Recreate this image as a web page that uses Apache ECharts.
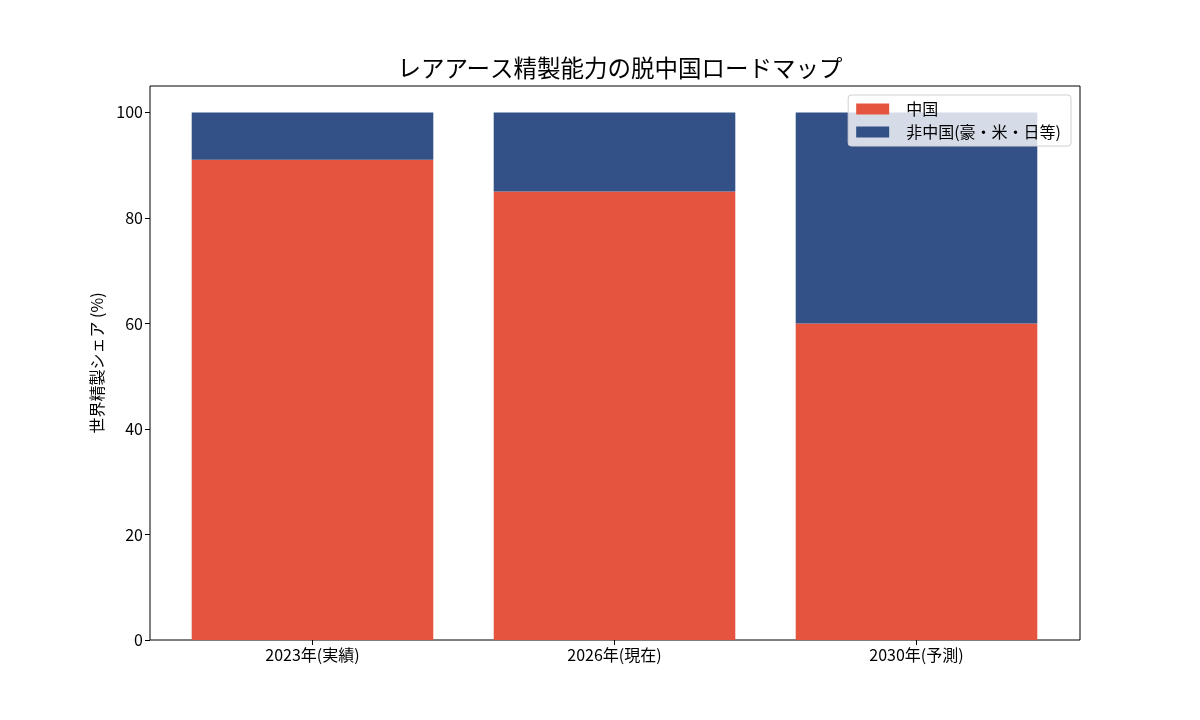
<!DOCTYPE html>
<html>
<head>
<meta charset="utf-8">
<script src="https://cdn.jsdelivr.net/npm/echarts@6/dist/echarts.min.js"></script>
<style>
  html, body { margin: 0; padding: 0; background: #fff; }
  #chart { width: 1200px; height: 720px; }
</style>
</head>
<body>
<div id="chart"></div>
<script>
// データ
var categories = ['2023年(実績)', '2026年(現在)', '2030年(予測)'];
var chinaShare = [91, 85, 60];
var otherShare = [9, 15, 40];
var seriesNames = ['中国', '非中国(豪・米・日等)'];
var yTicks = [0, 20, 40, 60, 80, 100];

var FONT = '"Noto Sans CJK JP", "Noto Sans", sans-serif';

var myChart = echarts.init(document.getElementById('chart'));

var option = {
    backgroundColor: '#fff',
    animation: false,
    title: {
        text: 'レアアース精製能力の脱中国ロードマップ',
        left: 615,
        textAlign: 'center',
        top: 51,
        textStyle: { fontFamily: FONT, fontSize: 23.5, fontWeight: 'normal', color: '#000' }
    },
    legend: {
        orient: 'vertical',
        right: 129,
        top: 95,
        icon: 'rect',
        itemWidth: 33,
        itemHeight: 11,
        itemGap: 7,
        padding: [6, 10, 6, 8],
        backgroundColor: 'rgba(255,255,255,0.8)',
        borderColor: '#d0d0d0',
        borderWidth: 1,
        borderRadius: 3,
        textStyle: { fontFamily: FONT, fontSize: 16, color: '#000', padding: [0, 0, 0, 12] },
        data: seriesNames
    },
    grid: [
        // 枠線用
        { left: 150, right: 120, top: 86, bottom: 80, show: true, borderColor: '#000', borderWidth: 1, backgroundColor: 'transparent' },
        // 棒グラフ用
        { left: 161.5, right: 132.5, top: 86, bottom: 80 }
    ],
    xAxis: [
        { gridIndex: 0, type: 'value', show: false },
        {
            gridIndex: 1,
            type: 'category',
            data: categories,
            axisLine: { show: false },
            axisTick: { show: true, alignWithLabel: true, inside: false, length: 5, lineStyle: { color: '#000' } },
            axisLabel: { fontFamily: FONT, fontSize: 16, color: '#000', margin: 7 }
        }
    ],
    yAxis: [
        { gridIndex: 0, type: 'value', show: false },
        {
            gridIndex: 1,
            type: 'value',
            min: 0,
            max: 105,
            interval: 20,
            offset: 11.5,
            name: '世界精製シェア (%)',
            nameLocation: 'middle',
            nameGap: 45,
            nameTextStyle: { fontFamily: FONT, fontSize: 16, color: '#000' },
            axisLine: { show: false },
            axisTick: { show: true, length: 5, lineStyle: { color: '#000' } },
            splitLine: { show: false },
            axisLabel: {
                fontFamily: FONT, fontSize: 16, color: '#000', margin: 7,
                showMaxLabel: false,
                formatter: function (v) { return yTicks.indexOf(v) >= 0 ? String(v) : ''; }
            }
        }
    ],
    series: [
        {
            name: seriesNames[0],
            type: 'bar',
            stack: 'share',
            xAxisIndex: 1,
            yAxisIndex: 1,
            barWidth: '80%',
            itemStyle: { color: '#E4543F' },
            data: chinaShare
        },
        {
            name: seriesNames[1],
            type: 'bar',
            stack: 'share',
            xAxisIndex: 1,
            yAxisIndex: 1,
            barWidth: '80%',
            itemStyle: { color: '#335087' },
            data: otherShare
        }
    ]
};

myChart.setOption(option);
</script>
</body>
</html>
